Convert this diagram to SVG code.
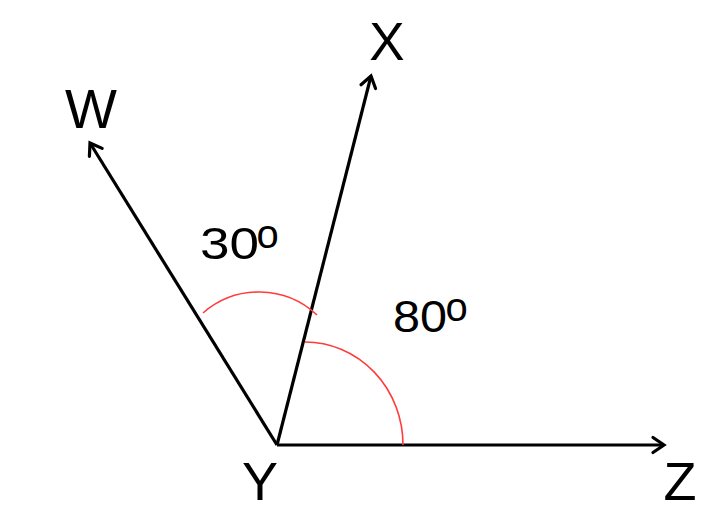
<svg xmlns="http://www.w3.org/2000/svg" width="727" height="526" viewBox="0 0 727 526">
  <style>
    .ray { stroke: #000; stroke-width: 3.2; fill: none; marker-end: url(#chev); }
    .arc { stroke: #ff3b3b; stroke-width: 1.6; fill: none; }
    .lbl { font-family: "Liberation Sans", Arial, sans-serif; fill: #000; }
  </style>
  <defs>
    <marker id="chev" markerUnits="userSpaceOnUse" markerWidth="30" markerHeight="30" viewBox="-15 -15 30 30" refX="0" refY="0" orient="auto">
      <path d="M -11 -7.5 L 0 0 L -11 7.5" fill="none" stroke="#000" stroke-width="3.2" stroke-linecap="round" stroke-linejoin="miter"/>
    </marker>
  </defs>
  <rect width="727" height="526" fill="#fff"/>
  <g id="connectors">
    <line class="ray" x1="277" y1="445" x2="664" y2="445"/>
    <line class="ray" x1="277" y1="445" x2="371" y2="76"/>
    <line class="ray" x1="277" y1="445" x2="90" y2="143"/>
  </g>
  <g id="angle-arcs">
    <path class="arc" d="M 203 313 A 85 85 0 0 1 317 315"/>
    <path class="arc" d="M 305 342 A 98 103 0 0 1 403 445"/>
  </g>
  <g id="node-X"><text class="lbl" x="387" y="60" font-size="53" text-anchor="middle">X</text></g>
  <g id="node-W"><text class="lbl" x="91" y="128" font-size="55" text-anchor="middle">W</text></g>
  <g id="node-Y"><text class="lbl" x="260" y="500" font-size="54" text-anchor="middle">Y</text></g>
  <g id="node-Z"><text class="lbl" x="680" y="500" font-size="54" text-anchor="middle">Z</text></g>
  <g id="label-30">
    <text class="lbl" x="200" y="259" font-size="45" textLength="59" lengthAdjust="spacingAndGlyphs">30</text>
    <text class="lbl" x="256.5" y="248" font-size="40">o</text>
  </g>
  <g id="label-80">
    <text class="lbl" x="393" y="332" font-size="44" textLength="54" lengthAdjust="spacingAndGlyphs">80</text>
    <text class="lbl" x="445.5" y="321" font-size="40">o</text>
  </g>
</svg>
